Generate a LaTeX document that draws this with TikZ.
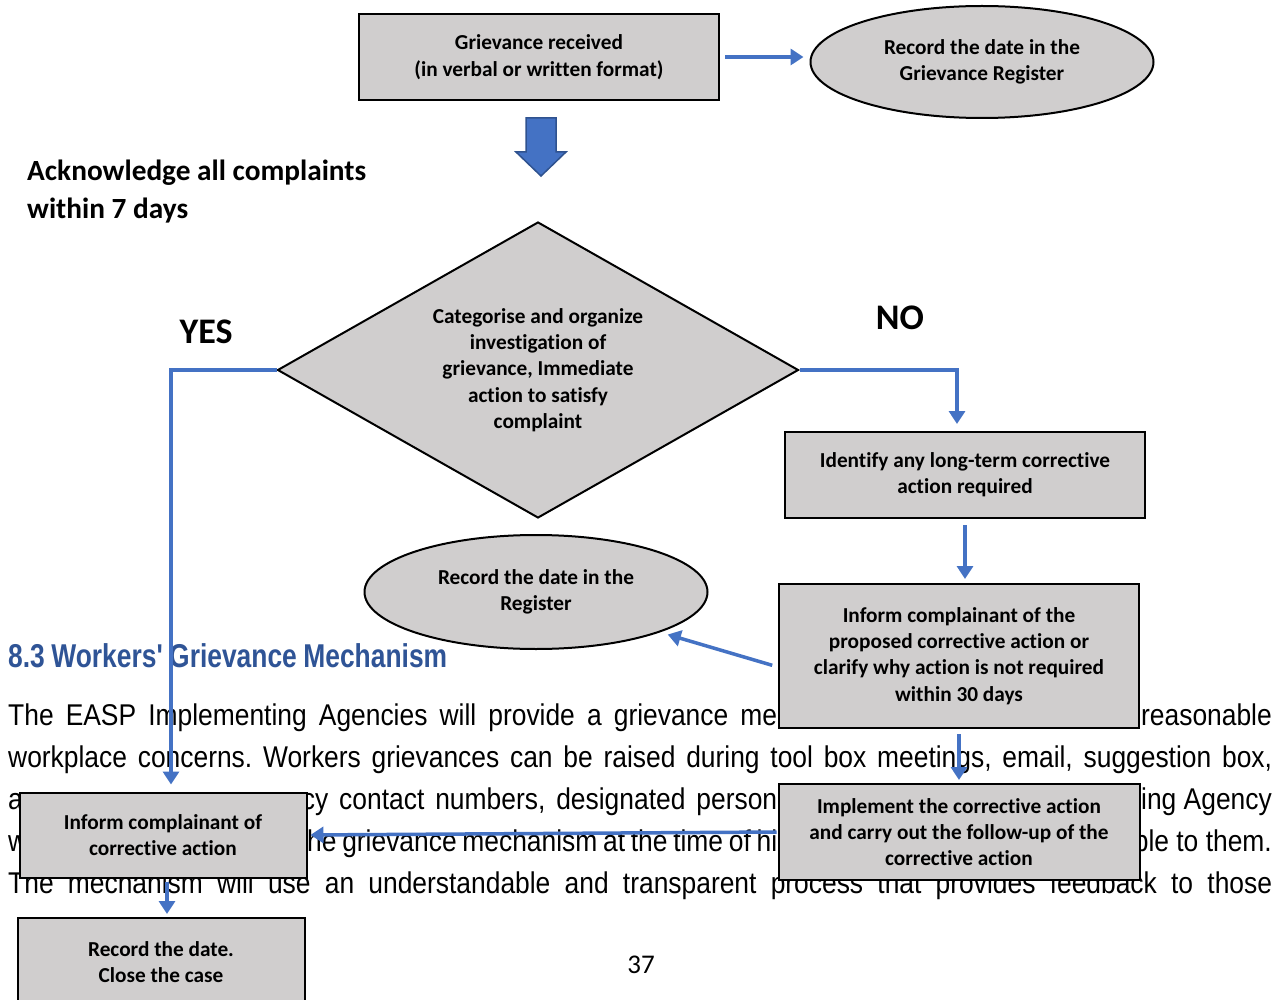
\documentclass[tikz,border=0pt]{standalone}
\usepackage{fontspec}
\setmainfont{Carlito}[Ligatures=NoCommon]
\newfontfamily\bodyfont[FakeStretch=0.88]{Liberation Sans}
\newfontfamily\headfont[FakeStretch=0.8]{Liberation Sans}
\usepackage{tikz}
\usetikzlibrary{shapes.geometric,arrows.meta}
\frenchspacing

\definecolor{boxgray}{RGB}{208,206,206}
\definecolor{flowblue}{RGB}{68,114,196}
\definecolor{arrowedge}{RGB}{47,82,143}
\definecolor{headblue}{RGB}{47,84,150}

\newcommand{\boxfont}{\bfseries\fontsize{21.3}{26.3}\selectfont}
\newcommand{\pagefont}{\bodyfont\fontsize{30}{36}\selectfont}

\begin{document}
\begin{tikzpicture}[x=1pt,y=-1pt,
        stepbox/.style={rectangle,draw,line width=2pt,fill=boxgray,align=center,font=\boxfont,inner sep=0pt},
        regoval/.style={ellipse,draw,line width=2pt,fill=boxgray,align=center,font=\boxfont,inner sep=0pt},
        decision/.style={diamond,draw,line width=2pt,fill=boxgray,align=center,font=\boxfont,inner sep=0pt,aspect=1.76},
        flow/.style={draw=flowblue,line width=3.5pt,-{Triangle[length=13pt,width=16pt]}},
        bodytext/.style={anchor=base west,inner sep=0pt,font=\pagefont},
        bigword/.style={font=\bfseries\fontsize{36}{40}\selectfont,inner sep=0pt}
    ]

    \useasboundingbox[fill=white] (0,0) rectangle (1288,1000);

    % the page text behind the chart
    \node[anchor=base west,inner sep=0pt,text=headblue,font=\headfont\bfseries\fontsize{33}{36}\selectfont] (sec) at (8,667)
        {\makebox[439pt][s]{8.3 Workers' Grievance Mechanism}};
    \node[bodytext] (l1a) at (8,725) {\makebox[769pt][s]{The EASP Implementing Agencies will provide a grievance me}};
    \node[bodytext,anchor=base east] (l1b) at (1272,725) {reasonable};
    \node[bodytext] (l2) at (8,767) {\makebox[1264pt][s]{workplace concerns. Workers grievances can be raised during tool box meetings, email, suggestion box,}};
    \node[bodytext] (l3a) at (8,809) {a};
    \node[bodytext] (l3b) at (287,809) {\makebox[490pt][s]{ncy contact numbers, designated person}};
    \node[bodytext,anchor=base east] (l3c) at (1272,809) {ing Agency};
    \node[bodytext] (l4a) at (8,851) {w};
    \node[bodytext] (l4b) at (307,851) {\makebox[470pt][s]{he grievance mechanism at the time of hi}};
    \node[bodytext,anchor=base east] (l4c) at (1272,851) {ble to them.};
    \node[bodytext] (l5) at (8,893) {\makebox[1264pt][s]{The mechanism will use an understandable and transparent process that provides feedback to those}};
    \node[font=\fontsize{27}{30}\selectfont] (pg) at (641,965) {37};

    % chart
    \node[stepbox,minimum width=360pt,minimum height=86pt] (rcv) at (539,57) {Grievance received\\(in verbal or written format)};
    \node[regoval,minimum width=343pt,minimum height=112pt] (reg) at (982,62) {Record the date in the\\Grievance Register};

    \filldraw[fill=flowblue,draw=arrowedge,line width=1.5pt]
        (526,118) -- (556,118) -- (556,152) -- (566,152) -- (541,176) -- (516,152) -- (526,152) -- cycle;

    \node[anchor=west,align=left,inner sep=0pt,font=\bfseries\fontsize{29.3}{38}\selectfont] (ack) at (27,192)
        {Acknowledge all complaints\\within 7 days};

    \node[decision,minimum width=521pt,minimum height=296pt] (cat) at (538,370)
        {Categorise and organize\\investigation of\\grievance, Immediate\\action to satisfy\\complaint};
    \node[bigword] (yes) at (206,332) {YES};
    \node[bigword] (no) at (900,318) {NO};

    \node[stepbox,minimum width=360pt,minimum height=86pt] (ident) at (965,475) {Identify any long-term corrective\\action required};
    \node[stepbox,minimum width=360pt,minimum height=144pt] (infp) at (959,656)
        {Inform complainant of the\\proposed corrective action or\\clarify why action is not required\\within 30 days};
    \node[regoval,minimum width=343pt,minimum height=114pt] (reg2) at (536,592) {Record the date in the\\Register};
    \node[stepbox,minimum width=361pt,minimum height=96pt] (impl) at (959,832)
        {Implement the corrective action\\and carry out the follow-up of the\\corrective action};
    \node[stepbox,minimum width=287pt,minimum height=85pt] (inf2) at (163,835) {Inform complainant of\\corrective action};
    \node[stepbox,minimum width=287pt,minimum height=88pt] (close) at (161,962) {Record the date.\\Close the case};

    \draw[flow,shorten <=5pt,shorten >=6pt] (rcv.east) -- (rcv.east -| reg.west);
    \draw[flow,shorten >=7pt] (cat.west) -| ([xshift=8pt]inf2.north);
    \draw[flow,shorten >=7pt] (cat.east) -| ([xshift=-8pt]ident.north);
    \draw[flow,shorten <=6pt,shorten >=4pt] (ident.south) -- (ident.south |- infp.north);
    \draw[flow,shorten <=6pt,shorten >=8pt] ([yshift=-11pt]infp.west) -- (reg2.-18);
    \draw[flow,shorten <=5pt,shorten >=3pt] (infp.south) -- (infp.south |- impl.north);
    \draw[flow,shorten <=1pt,shorten >=3pt] (impl.west) -- (inf2.east);
    \draw[flow,shorten <=3pt,shorten >=3pt] ([xshift=4pt]inf2.south) -- ([xshift=4pt]inf2.south |- close.north);

\end{tikzpicture}
\end{document}
